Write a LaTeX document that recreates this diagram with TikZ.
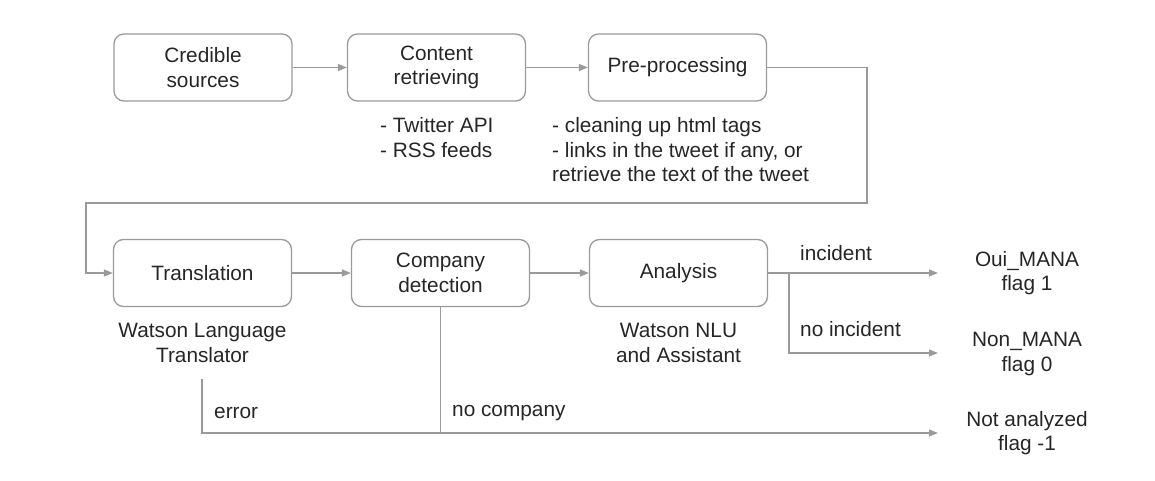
\documentclass[tikz,border=0pt]{standalone}
\usepackage{fontspec}
\setmainfont{Liberation Sans}
\usetikzlibrary{arrows.meta}
\definecolor{linegray}{HTML}{9A9A9A}
\definecolor{txtcol}{HTML}{262626}
\begin{document}
\begin{tikzpicture}[x=1pt,y=-1pt,
  font=\fontsize{20.8}{24.5}\selectfont, text=txtcol,
  box/.style={draw=linegray, line width=1.3pt, rounded corners=10pt,
    minimum width=178pt, minimum height=67pt, align=center, inner sep=0pt},
  conn/.style={draw=linegray, line width=1.3pt},
  arr/.style={conn, -{Triangle[length=9pt,width=7pt]}},
  lbl/.style={inner sep=0pt, anchor=west},
  outtxt/.style={inner sep=0pt, align=center},
  note/.style={inner sep=0pt, align=left, anchor=west}]
\useasboundingbox (0,0) rectangle (1155,481);
% boxes
\node[box] (cred) at (203,67.5) {Credible\\sources};
\node[box] (cont) at (436.5,67.5) {Content\\retrieving};
\node[box] (pre) at (677.5,67.5) {Pre-processing};
\node[box] (trans) at (202.5,273) {Translation};
\node[box] (comp) at (440.5,273) {Company\\detection};
\node[box] (ana) at (678.5,273) {Analysis};
% notes
\node[note] (tw) at (380,137.5) {- Twitter API\\- RSS feeds};
\node[note] (pp) at (552,150) {- cleaning up html tags\\- links in the tweet if any, or\\retrieve the text of the tweet};
\node[outtxt] (wlt) at (202.5,343) {Watson Language\\Translator};
\node[outtxt] (wnlu) at (678.5,343) {Watson NLU\\and Assistant};
% outputs
\node[outtxt] (oui) at (1027,273) {Oui\_MANA\\flag 1};
\node[outtxt] (non) at (1027,354) {Non\_MANA\\flag 0};
\node[outtxt] (nota) at (1027,433) {Not analyzed\\flag -1};
% labels
\node[lbl] (linc) at (800,253) {incident};
\node[lbl] (lnoinc) at (800,329) {no incident};
\node[lbl] (lerr) at (214,413) {error};
\node[lbl] (lnoc) at (452,413) {no company};
% coordinates
\coordinate (c1) at (867,67.5);
\coordinate (c2) at (867,203);
\coordinate (c3) at (86,203);
\coordinate (c4) at (86,273);
\coordinate (tipA) at (938,273);
\coordinate (brA) at (789,273);
\coordinate (brB) at (789,353);
\coordinate (tipB) at (938,353);
\coordinate (cB) at (440.5,433);
\coordinate (tipC) at (938,433);
\coordinate (eT) at (202,379);
\coordinate (eB) at (202,433);
% connectors
\draw[arr] (cred) -- (cont);
\draw[arr] (cont) -- (pre);
\draw[arr] (pre.east) -- (c1) -- (c2) -- (c3) -- (c4) -- (trans.west);
\draw[arr] (trans) -- (comp);
\draw[arr] (comp) -- (ana);
\draw[arr] (ana.east) -- (tipA);
\draw[arr] (brA) -- (brB) -- (tipB);
\draw[arr] (comp.south) -- (cB) -- (tipC);
\draw[conn] (eT) -- (eB) -- (cB);
\end{tikzpicture}
\end{document}
